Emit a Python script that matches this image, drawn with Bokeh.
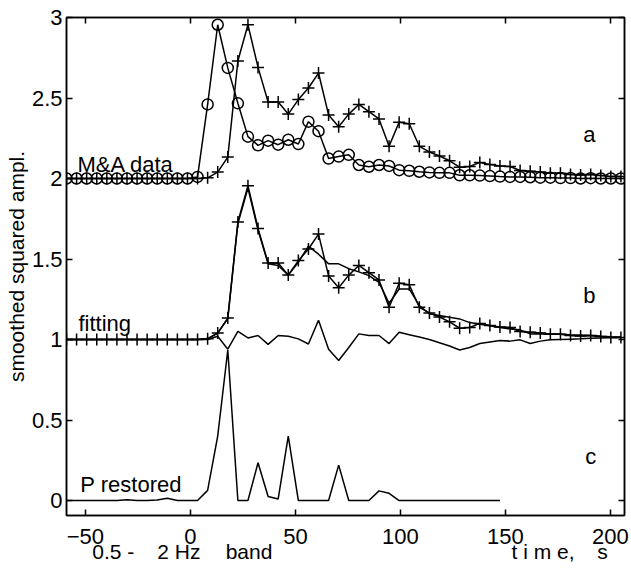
from bokeh.plotting import figure
from bokeh.models import Range1d, LinearAxis, Label, FixedTicker
from bokeh.embed import file_html
from bokeh.resources import INLINE

# ---- data ----
t = [-59.0, -54.2, -49.4, -44.6, -39.8, -35.0, -30.2, -25.4, -20.6, -15.8,
     -11.0, -6.2, -1.4, 3.4, 8.2, 13.0, 17.8, 22.6, 27.4, 32.2,
     37.0, 41.8, 46.6, 51.4, 56.2, 61.0, 65.8, 70.6, 75.4, 80.2,
     85.0, 89.8, 94.6, 99.4, 104.2, 109.0, 113.8, 118.6, 123.4, 128.2,
     133.0, 137.8, 142.6, 147.4, 152.2, 157.0, 161.8, 166.6, 171.4, 176.2,
     181.0, 185.8, 190.6, 195.4, 200.2, 205.0]

# panel a: M&A data (circles), drawn on the 2-baseline
ma_circles = [2.0, 2.0, 2.0, 2.0, 2.0, 2.0, 2.0, 2.0, 2.0, 2.0,
              2.0, 2.0, 2.0, 2.01, 2.46, 2.955, 2.687, 2.467, 2.26, 2.206,
              2.235, 2.21, 2.241, 2.214, 2.353, 2.294, 2.124, 2.136, 2.147, 2.084,
              2.073, 2.084, 2.078, 2.052, 2.048, 2.042, 2.038, 2.035, 2.035, 2.02,
              2.02, 2.018, 2.015, 2.012, 2.01, 2.01, 2.008, 2.005, 2.005, 2.003,
              2.003, 2.0, 2.002, 2.0, 2.0, 2.0]

# data with pluses, on the 1-baseline (panel b); panel a shows it shifted by +1
data_plus = [1.0, 1.0, 1.0, 1.0, 1.0, 1.0, 1.0, 1.0, 1.0, 1.0,
             1.0, 1.0, 1.0, 1.0, 1.004, 1.04, 1.133, 1.73, 1.955, 1.69,
             1.475, 1.475, 1.40, 1.49, 1.562, 1.655, 1.395, 1.322, 1.40, 1.46,
             1.415, 1.37, 1.20, 1.35, 1.34, 1.20, 1.165, 1.14, 1.11, 1.07,
             1.075, 1.10, 1.087, 1.078, 1.075, 1.05, 1.045, 1.04, 1.033, 1.033,
             1.025, 1.022, 1.025, 1.018, 1.012, 1.012]
PANEL_A_SHIFT = 1.0

# panel b: fitting curve
fitting = [1.0, 1.0, 1.0, 1.0, 1.0, 1.0, 1.0, 1.0, 1.0, 1.0,
           1.0, 1.0, 1.0, 1.0, 1.006, 1.04, 1.13, 1.72, 1.94, 1.68,
           1.47, 1.46, 1.40, 1.48, 1.58, 1.53, 1.47, 1.47, 1.44, 1.42,
           1.397, 1.355, 1.225, 1.314, 1.314, 1.21, 1.16, 1.149, 1.138, 1.128,
           1.105, 1.095, 1.085, 1.075, 1.066, 1.06, 1.035, 1.035, 1.035, 1.033,
           1.03, 1.028, 1.025, 1.02, 1.017, 1.015]

# panel b: residual line around 1
residual = [1.0, 1.0, 1.0, 1.0, 1.0, 1.0, 1.0, 1.0, 1.0, 1.0,
            1.0, 1.0, 1.0, 1.0, 1.0, 1.02, 0.94, 1.05, 1.01, 1.025,
            0.97, 1.025, 1.02, 1.004, 0.972, 1.12, 0.94, 0.87, 0.95, 1.035,
            1.025, 1.025, 0.975, 1.045, 1.03, 1.015, 1.0, 0.98, 0.96, 0.935,
            0.95, 0.975, 0.985, 0.994, 0.99, 0.998, 0.975, 0.99, 0.998, 1.0,
            1.002, 1.004, 1.008, 1.01, 1.012, 1.014]

# panel c: P restored (ends near 147 s)
p_restored = [0.0, 0.0, 0.0, 0.0, 0.0, 0.0, 0.005, 0.0, 0.0, 0.003,
              0.014, 0.0, 0.0, 0.0, 0.063, 0.40, 0.935, 0.0, 0.0, 0.235,
              0.025, 0.01, 0.40, 0.0, 0.0, 0.0, 0.0, 0.22, 0.0, 0.0,
              0.0, 0.06, 0.045, 0.0, 0.0, 0.0, 0.0, 0.0, 0.0, 0.0,
              0.0, 0.0, 0.0, 0.0]

x_ticks = [-50, 0, 50, 100, 150, 200]
y_ticks = [0, 0.5, 1, 1.5, 2, 2.5, 3]
y_tick_labels = ["0", "0.5", "1", "1.5", "2", "2.5", "3"]

# second row under the x axis: band and time captions (text, centre position in s)
caption_texts = ["0.5 -", "2 Hz", "band", "t i m e,", "s"]
caption_pos = [-36.7, -5.5, 27.9, 167.9, 196.2]

FONT = "Liberation Sans"

p = figure(width=631, height=568, x_range=Range1d(-59, 206.7), y_range=Range1d(-0.093, 3.0),
           output_backend="svg", toolbar_location=None,
           min_border_left=66, min_border_right=7, min_border_top=17, min_border_bottom=53)
p.xgrid.visible = False
p.ygrid.visible = False
p.outline_line_color = "black"
p.outline_line_width = 1.5
p.background_fill_color = "white"
p.border_fill_color = "white"

def style_axis(ax, ticks, show_labels):
    ax.ticker = FixedTicker(ticks=ticks, minor_ticks=[])
    ax.major_tick_in = 6
    ax.major_tick_out = 0
    ax.major_tick_line_color = "black"
    ax.major_tick_line_width = 1.5
    ax.axis_line_color = "black"
    ax.axis_line_width = 1.5
    if show_labels:
        ax.major_label_text_font = FONT
        ax.major_label_text_font_size = "22px"
        ax.major_label_text_color = "black"
    else:
        ax.major_label_text_font_size = "1px"
        ax.major_label_text_color = None
        ax.major_label_standoff = 0

xa = p.xaxis[0]
style_axis(xa, x_ticks, True)
xa.major_label_standoff = 13

ya = p.yaxis[0]
style_axis(ya, y_ticks, True)
ya.major_label_standoff = 4
ya.major_label_overrides = {v: s for v, s in zip(y_ticks, y_tick_labels)}
ya.axis_label = "smoothed squared ampl."
ya.axis_label_text_font = FONT
ya.axis_label_text_font_size = "21px"
ya.axis_label_text_font_style = "normal"
ya.axis_label_text_color = "black"
ya.axis_label_standoff = 1

top = LinearAxis()
style_axis(top, x_ticks, False)
p.add_layout(top, "above")
right = LinearAxis()
style_axis(right, y_ticks, False)
p.add_layout(right, "right")

# caption row as a tick-less axis below
cap = LinearAxis(ticker=FixedTicker(ticks=caption_pos, minor_ticks=[]))
cap.major_label_overrides = {v: s for v, s in zip(caption_pos, caption_texts)}
cap.axis_line_color = None
cap.major_tick_line_color = None
cap.major_tick_in = 0
cap.major_tick_out = 0
cap.major_label_standoff = -7
cap.major_label_text_font = FONT
cap.major_label_text_font_size = "21px"
cap.major_label_text_color = "black"
p.add_layout(cap, "below")

# ---- curves ----
plus_a = [v + PANEL_A_SHIFT for v in data_plus]
p.line(t, plus_a, line_color="black", line_width=1.5)
p.scatter(t, plus_a, marker="cross", size=12, line_color="black", line_width=1.5)
p.line(t, ma_circles, line_color="black", line_width=1.5)
p.scatter(t, ma_circles, marker="circle", size=11, line_color="black", line_width=1.5, fill_alpha=0)

p.line(t, residual, line_color="black", line_width=1.5)
p.line(t, fitting, line_color="black", line_width=1.5)
p.line(t, data_plus, line_color="black", line_width=1.5)
p.scatter(t, data_plus, marker="cross", size=12, line_color="black", line_width=1.5)

p.line(t[:len(p_restored)], p_restored, line_color="black", line_width=1.5)

# ---- text labels ----
def lab(x, y, text, size="22px", align="left"):
    p.add_layout(Label(x=x, y=y, text=text, text_font=FONT, text_font_size=size,
                       text_color="black", text_align=align, text_baseline="alphabetic"))

lab(-53.8, 2.09, "M&A data")
lab(-53.3, 1.097, "fitting")
lab(-52.4, 0.10, "P restored")
lab(187.1, 2.273, "a")
lab(187.1, 1.275, "b")
lab(188.0, 0.271, "c")

open("out.html", "w").write(file_html(p, INLINE))
